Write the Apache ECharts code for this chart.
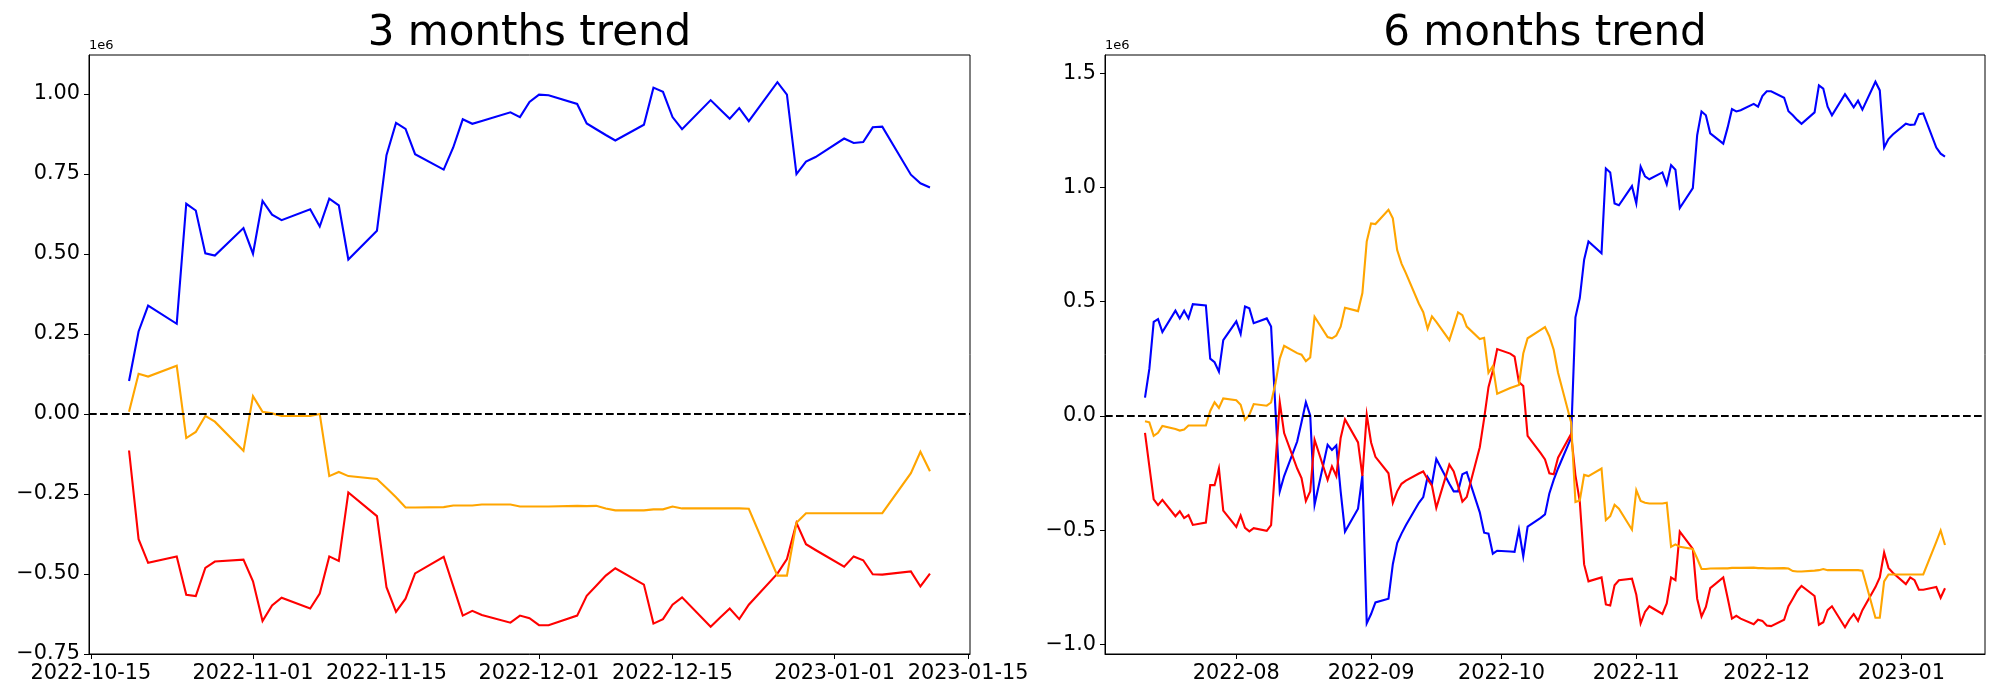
<!DOCTYPE html>
<html><head><meta charset="utf-8">
<script src="https://cdn.jsdelivr.net/npm/echarts@6/dist/echarts.min.js"></script>
<style>html,body{margin:0;padding:0;background:#fff}#c{width:2000px;height:700px}</style>
</head><body><div id="c"></div>
<script>
// ---------- 3 months trend (values in 1e6) ----------
const dates3m = ['2022-10-19','2022-10-20','2022-10-21','2022-10-24','2022-10-25','2022-10-26','2022-10-27','2022-10-28','2022-10-31',
'2022-11-01','2022-11-02','2022-11-03','2022-11-04','2022-11-07','2022-11-08','2022-11-09','2022-11-10','2022-11-11','2022-11-14','2022-11-15','2022-11-16','2022-11-17','2022-11-18','2022-11-21','2022-11-22','2022-11-23','2022-11-24','2022-11-25','2022-11-28','2022-11-29','2022-11-30',
'2022-12-01','2022-12-02','2022-12-05','2022-12-06','2022-12-07','2022-12-08','2022-12-09','2022-12-12','2022-12-13','2022-12-14','2022-12-15','2022-12-16','2022-12-19','2022-12-20','2022-12-21','2022-12-22','2022-12-23','2022-12-26','2022-12-27','2022-12-28','2022-12-29','2022-12-30',
'2023-01-02','2023-01-03','2023-01-04','2023-01-05','2023-01-06','2023-01-09','2023-01-10','2023-01-11'];
const blue3m = [0.103,0.258,0.339,0.282,0.657,0.636,0.502,0.495,0.581,
0.501,0.666,0.623,0.606,0.640,0.586,0.673,0.652,0.483,0.573,0.809,0.910,0.891,0.812,0.764,0.833,0.921,0.907,0.916,0.943,0.928,0.975,
0.998,0.996,0.969,0.908,0.890,0.872,0.855,0.904,1.020,1.007,0.928,0.890,0.981,0.952,0.923,0.956,0.915,1.037,0.998,0.750,0.789,0.803,
0.861,0.847,0.850,0.896,0.898,0.748,0.721,0.708];
const orange3m = [0.007,0.126,0.117,0.151,-0.075,-0.056,-0.006,-0.024,-0.115,
0.056,0.007,0.002,-0.006,-0.006,0.000,-0.194,-0.181,-0.194,-0.203,-0.231,-0.260,-0.292,-0.292,-0.291,-0.286,-0.286,-0.286,-0.283,-0.283,-0.289,-0.289,
-0.289,-0.289,-0.287,-0.288,-0.287,-0.295,-0.301,-0.301,-0.298,-0.298,-0.289,-0.295,-0.295,-0.295,-0.295,-0.295,-0.296,-0.505,-0.505,-0.340,-0.310,-0.310,
-0.310,-0.310,-0.310,-0.310,-0.310,-0.185,-0.118,-0.179];
const red3m = [-0.114,-0.391,-0.465,-0.445,-0.565,-0.569,-0.481,-0.461,-0.455,
-0.523,-0.647,-0.598,-0.574,-0.608,-0.561,-0.445,-0.459,-0.245,-0.319,-0.541,-0.618,-0.577,-0.498,-0.446,-0.538,-0.630,-0.615,-0.628,-0.652,-0.630,-0.638,
-0.660,-0.660,-0.630,-0.568,-0.537,-0.505,-0.482,-0.533,-0.655,-0.641,-0.596,-0.573,-0.665,-0.636,-0.608,-0.641,-0.596,-0.499,-0.453,-0.340,-0.407,-0.425,
-0.477,-0.445,-0.457,-0.501,-0.502,-0.492,-0.539,-0.499];
const xTicks3m = ['2022-10-15','2022-11-01','2022-11-15','2022-12-01','2022-12-15','2023-01-01','2023-01-15'];
const yTicks3m = [-0.75,-0.5,-0.25,0,0.25,0.5,0.75,1.0];

// ---------- 6 months trend (values in 1e6) ----------
const dates6m = ['2022-07-11','2022-07-12','2022-07-13','2022-07-14','2022-07-15','2022-07-18','2022-07-19','2022-07-20','2022-07-21','2022-07-22','2022-07-25','2022-07-26','2022-07-27','2022-07-28','2022-07-29',
'2022-08-01','2022-08-02','2022-08-03','2022-08-04','2022-08-05','2022-08-08','2022-08-09','2022-08-10','2022-08-11','2022-08-12','2022-08-15','2022-08-16','2022-08-17','2022-08-18','2022-08-19','2022-08-22','2022-08-23','2022-08-24','2022-08-25','2022-08-26','2022-08-29','2022-08-30','2022-08-31',
'2022-09-01','2022-09-02','2022-09-05','2022-09-06','2022-09-07','2022-09-08','2022-09-09','2022-09-12','2022-09-13','2022-09-14','2022-09-15','2022-09-16','2022-09-19','2022-09-20','2022-09-21','2022-09-22','2022-09-23','2022-09-26','2022-09-27','2022-09-28','2022-09-29','2022-09-30',
'2022-10-03','2022-10-04','2022-10-05','2022-10-06','2022-10-07','2022-10-10','2022-10-11','2022-10-12','2022-10-13','2022-10-14','2022-10-17','2022-10-18','2022-10-19','2022-10-20','2022-10-21','2022-10-24','2022-10-25','2022-10-26','2022-10-27','2022-10-28','2022-10-31',
'2022-11-01','2022-11-02','2022-11-03','2022-11-04','2022-11-07','2022-11-08','2022-11-09','2022-11-10','2022-11-11','2022-11-14','2022-11-15','2022-11-16','2022-11-17','2022-11-18','2022-11-21','2022-11-22','2022-11-23','2022-11-24','2022-11-25','2022-11-28','2022-11-29','2022-11-30',
'2022-12-01','2022-12-02','2022-12-05','2022-12-06','2022-12-07','2022-12-08','2022-12-09','2022-12-12','2022-12-13','2022-12-14','2022-12-15','2022-12-16','2022-12-19','2022-12-20','2022-12-21','2022-12-22','2022-12-23','2022-12-26','2022-12-27','2022-12-28','2022-12-29','2022-12-30',
'2023-01-02','2023-01-03','2023-01-04','2023-01-05','2023-01-06','2023-01-09','2023-01-10','2023-01-11'];
const blue6m = [0.080,0.206,0.412,0.424,0.367,0.461,0.427,0.461,0.427,0.489,0.484,0.251,0.235,0.194,0.332,
0.414,0.359,0.479,0.471,0.406,0.427,0.391,0.030,-0.330,-0.263,-0.112,-0.028,0.060,0.002,-0.389,-0.126,-0.149,-0.129,-0.330,-0.506,-0.406,-0.260,-0.908,
-0.867,-0.816,-0.800,-0.649,-0.556,-0.515,-0.478,-0.380,-0.355,-0.267,-0.297,-0.188,-0.297,-0.330,-0.330,-0.255,-0.246,-0.422,-0.511,-0.515,-0.603,-0.590,
-0.593,-0.595,-0.498,-0.615,-0.484,-0.446,-0.431,-0.339,-0.280,-0.230,-0.096,0.432,0.516,0.684,0.764,0.712,1.083,1.066,0.930,0.922,1.006,
0.930,1.091,1.049,1.036,1.066,1.014,1.098,1.078,0.910,0.997,1.229,1.333,1.316,1.237,1.192,1.262,1.343,1.333,1.338,1.366,1.354,1.400,
1.421,1.421,1.393,1.334,1.316,1.296,1.279,1.329,1.447,1.433,1.354,1.316,1.408,1.380,1.351,1.380,1.341,1.463,1.425,1.175,1.212,1.232,
1.279,1.274,1.276,1.321,1.324,1.175,1.148,1.135];
const orange6m = [-0.023,-0.028,-0.087,-0.074,-0.044,-0.057,-0.064,-0.059,-0.042,-0.042,-0.042,0.022,0.060,0.035,0.077,
0.069,0.049,-0.017,0.005,0.052,0.045,0.059,0.142,0.251,0.307,0.275,0.268,0.240,0.256,0.434,0.345,0.340,0.352,0.391,0.474,0.459,0.538,0.764,
0.843,0.840,0.902,0.865,0.726,0.667,0.625,0.491,0.454,0.382,0.436,0.412,0.332,0.391,0.453,0.441,0.391,0.337,0.342,0.189,0.218,0.097,
0.122,0.129,0.136,0.273,0.340,0.377,0.389,0.349,0.290,0.189,-0.028,-0.377,-0.370,-0.258,-0.263,-0.230,-0.456,-0.439,-0.389,-0.406,-0.498,
-0.325,-0.372,-0.380,-0.383,-0.383,-0.380,-0.573,-0.562,-0.573,-0.582,-0.624,-0.670,-0.670,-0.668,-0.667,-0.667,-0.665,-0.665,-0.665,-0.664,-0.666,-0.666,
-0.667,-0.667,-0.666,-0.668,-0.679,-0.681,-0.681,-0.677,-0.675,-0.670,-0.675,-0.675,-0.675,-0.675,-0.675,-0.675,-0.677,-0.883,-0.883,-0.724,-0.694,-0.694,
-0.694,-0.694,-0.694,-0.694,-0.694,-0.551,-0.501,-0.565];
const red6m = [-0.074,-0.221,-0.365,-0.390,-0.367,-0.439,-0.417,-0.447,-0.434,-0.477,-0.467,-0.303,-0.303,-0.230,-0.414,
-0.486,-0.436,-0.490,-0.505,-0.491,-0.503,-0.478,-0.210,0.060,-0.075,-0.230,-0.272,-0.372,-0.330,-0.104,-0.280,-0.221,-0.263,-0.096,-0.015,-0.116,-0.263,0.005,
-0.116,-0.179,-0.251,-0.380,-0.330,-0.297,-0.283,-0.252,-0.243,-0.277,-0.305,-0.402,-0.213,-0.243,-0.305,-0.375,-0.355,-0.137,-0.012,0.126,0.198,0.293,
0.273,0.260,0.148,0.131,-0.087,-0.163,-0.190,-0.251,-0.255,-0.183,-0.079,-0.260,-0.374,-0.650,-0.724,-0.707,-0.825,-0.830,-0.741,-0.719,-0.712,
-0.783,-0.908,-0.858,-0.833,-0.867,-0.821,-0.707,-0.719,-0.506,-0.582,-0.800,-0.878,-0.836,-0.754,-0.707,-0.796,-0.887,-0.875,-0.887,-0.912,-0.892,-0.897,
-0.917,-0.920,-0.892,-0.833,-0.800,-0.766,-0.744,-0.788,-0.914,-0.903,-0.850,-0.833,-0.925,-0.892,-0.867,-0.897,-0.850,-0.749,-0.707,-0.598,-0.665,-0.686,
-0.736,-0.707,-0.719,-0.761,-0.761,-0.749,-0.796,-0.754];
const xTicks6m = ['2022-08-01','2022-09-01','2022-10-01','2022-11-01','2022-12-01','2023-01-01'];
const yTicks6m = [-1.0,-0.5,0,0.5,1.0,1.5];

const titles = ['3 months trend', '6 months trend'];
const yLim3m = [-0.750, 1.122];
const yLim6m = [-1.042, 1.580];

// ---------- helpers ----------
const FONT = 'DejaVu Sans';
const ts = s => Date.parse(s + 'T00:00:00Z');
const pairs = (dates, vals) => dates.map((d, i) => [ts(d), vals[i]]);
function xRange(dates) {
  const a = ts(dates[0]), b = ts(dates[dates.length - 1]);
  const m = (b - a) * 0.05;
  return [a - m, b + m];
}
const pad2 = n => String(n).padStart(2, '0');
const fmtDay = v => { const d = new Date(v); return d.getUTCFullYear() + '-' + pad2(d.getUTCMonth() + 1) + '-' + pad2(d.getUTCDate()); };
const fmtMonth = v => { const d = new Date(v); return d.getUTCFullYear() + '-' + pad2(d.getUTCMonth() + 1); };
const fmtY = dec => v => { const r = Math.round(v * 1000) / 1000; return (r < 0 ? '\u2212' : '') + Math.abs(r).toFixed(dec); };

function xAxisDef(idx, dates, ticks, fmt) {
  const [mn, mx] = xRange(dates);
  const tv = ticks.map(ts);
  return {
    type: 'value', gridIndex: idx, min: mn, max: mx,
    splitLine: { show: false },
    axisLine: { show: true, onZero: false, lineStyle: { color: '#000', width: 1 } },
    axisTick: { show: true, inside: false, length: 5, customValues: tv, lineStyle: { color: '#000', width: 1 } },
    axisLabel: { show: true, customValues: tv, formatter: fmt, fontSize: 20.8, fontFamily: FONT, color: '#000', margin: 9, hideOverlap: false, showMinLabel: true, showMaxLabel: true }
  };
}
function yAxisDef(idx, lim, ticks, dec) {
  return {
    type: 'value', gridIndex: idx, min: lim[0], max: lim[1],
    splitLine: { show: false },
    axisLine: { show: true, onZero: false, lineStyle: { color: '#000', width: 1 } },
    axisTick: { show: true, inside: false, length: 5, customValues: ticks, lineStyle: { color: '#000', width: 1 } },
    axisLabel: { show: true, customValues: ticks, formatter: fmtY(dec), fontSize: 20.8, fontFamily: FONT, color: '#000', margin: 9, showMinLabel: true, showMaxLabel: true },
    name: '1e6', nameLocation: 'end', nameGap: 3,
    nameTextStyle: { fontSize: 13, fontFamily: FONT, color: '#000', align: 'left', verticalAlign: 'bottom' }
  };
}
function lineSeries(idx, name, dates, vals, color, z) {
  return {
    type: 'line', name, xAxisIndex: idx, yAxisIndex: idx, data: pairs(dates, vals),
    showSymbol: false, symbol: 'none', smooth: false, z: z,
    lineStyle: { color, width: 2.1, cap: 'butt', join: 'miter' }, itemStyle: { color },
    silent: true, animation: false
  };
}
function zeroLine(idx) {
  return {
    type: 'line', xAxisIndex: idx, yAxisIndex: idx, data: [], z: 10, silent: true, animation: false,
    markLine: {
      symbol: ['none', 'none'], silent: true, animation: false, label: { show: false },
      lineStyle: { color: '#000', type: [7.7, 3.3], width: 2 },
      data: [{ yAxis: 0 }]
    }
  };
}

const chart = echarts.init(document.getElementById('c'), null, { renderer: 'canvas' });
chart.setOption({
  animation: false,
  backgroundColor: '#fff',
  title: [
    { text: titles[0], left: 524.5, top: 8, textAlign: 'center', textStyle: { fontSize: 42, fontWeight: 'normal', fontFamily: FONT, color: '#000' } },
    { text: titles[1], left: 1540, top: 8, textAlign: 'center', textStyle: { fontSize: 42, fontWeight: 'normal', fontFamily: FONT, color: '#000' } }
  ],
  grid: [
    { left: 89, right: 1030, top: 55, bottom: 46, show: true, borderColor: '#000', borderWidth: 1, backgroundColor: 'transparent' },
    { left: 1105, right: 15, top: 55, bottom: 46, show: true, borderColor: '#000', borderWidth: 1, backgroundColor: 'transparent' }
  ],
  xAxis: [ xAxisDef(0, dates3m, xTicks3m, fmtDay), xAxisDef(1, dates6m, xTicks6m, fmtMonth) ],
  yAxis: [ yAxisDef(0, yLim3m, yTicks3m, 2), yAxisDef(1, yLim6m, yTicks6m, 1) ],
  series: [
    lineSeries(0, 'blue', dates3m, blue3m, '#0000ff', 2),
    lineSeries(0, 'red', dates3m, red3m, '#ff0000', 3),
    lineSeries(0, 'orange', dates3m, orange3m, '#ffa500', 4),
    zeroLine(0),
    lineSeries(1, 'blue', dates6m, blue6m, '#0000ff', 2),
    lineSeries(1, 'red', dates6m, red6m, '#ff0000', 3),
    lineSeries(1, 'orange', dates6m, orange6m, '#ffa500', 4),
    zeroLine(1)
  ]
});
</script>
</body></html>
